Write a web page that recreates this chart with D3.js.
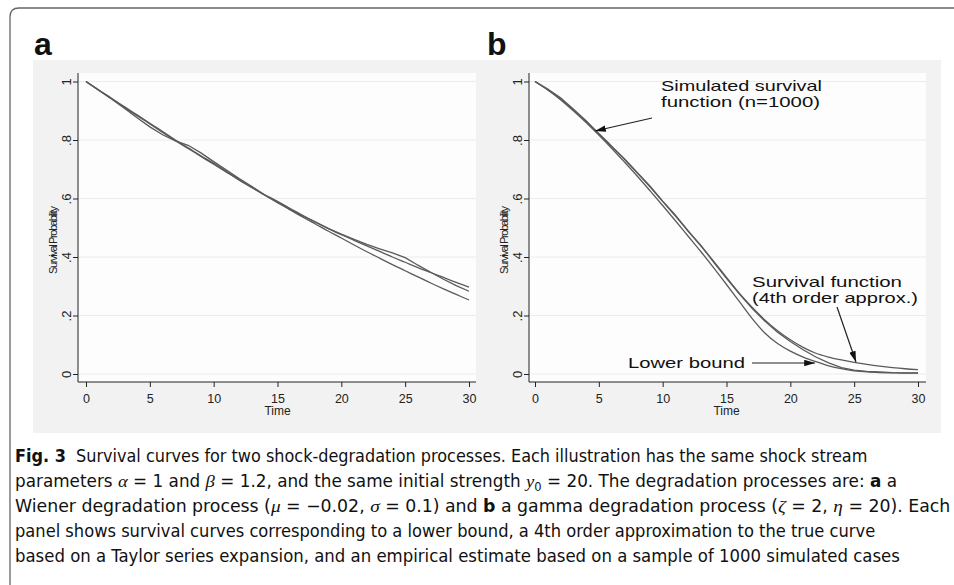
<!DOCTYPE html>
<html>
<head>
<meta charset="utf-8">
<script src="https://cdn.jsdelivr.net/npm/d3@7"></script>
<style>
  body { margin: 0; background: #fff; }
  svg { display: block; }
</style>
</head>
<body>
<div id="chart"></div>
<script>
// time grid shared by every curve
var time = [0, 1, 2, 3, 4, 5, 6, 7, 8, 9, 10, 11, 12, 13, 14, 15, 16, 17, 18, 19, 20,
            21, 22, 23, 24, 25, 26, 27, 28, 29, 30];

// panel a : Wiener degradation
var lowerA = [1.000, 0.970, 0.941, 0.912, 0.883, 0.855, 0.826, 0.798, 0.771, 0.744, 0.717,
              0.690, 0.663, 0.637, 0.611, 0.586, 0.561, 0.536, 0.512, 0.488, 0.465,
              0.441, 0.418, 0.396, 0.374, 0.353, 0.332, 0.311, 0.291, 0.272, 0.253];
var approxA = [1.000, 0.971, 0.943, 0.914, 0.886, 0.857, 0.829, 0.800, 0.773, 0.746, 0.720,
               0.692, 0.664, 0.638, 0.613, 0.590, 0.566, 0.542, 0.519, 0.497, 0.476,
               0.457, 0.438, 0.419, 0.400, 0.382, 0.364, 0.347, 0.330, 0.313, 0.297];
var empiricalA = [1.000, 0.970, 0.940, 0.909, 0.876, 0.845, 0.818, 0.797, 0.782, 0.756, 0.726,
                  0.697, 0.668, 0.641, 0.612, 0.587, 0.562, 0.540, 0.518, 0.497, 0.478,
                  0.460, 0.443, 0.428, 0.414, 0.398, 0.372, 0.348, 0.324, 0.302, 0.283];

// panel b : gamma degradation
var lowerB = [1.000, 0.971, 0.938, 0.900, 0.860, 0.817, 0.772, 0.725, 0.677, 0.627, 0.576,
              0.524, 0.471, 0.418, 0.363, 0.306, 0.248, 0.190, 0.140, 0.104, 0.078,
              0.058, 0.042, 0.028, 0.018, 0.011, 0.007, 0.005, 0.004, 0.003, 0.003];
var approxB = [1.000, 0.972, 0.940, 0.903, 0.864, 0.822, 0.779, 0.734, 0.688, 0.640, 0.590,
               0.540, 0.489, 0.437, 0.385, 0.330, 0.276, 0.228, 0.185, 0.148, 0.117,
               0.091, 0.071, 0.058, 0.048, 0.040, 0.033, 0.027, 0.022, 0.018, 0.015];
var empiricalB = [1.000, 0.974, 0.944, 0.906, 0.866, 0.820, 0.778, 0.736, 0.689, 0.643, 0.591,
                  0.543, 0.488, 0.440, 0.382, 0.327, 0.274, 0.225, 0.181, 0.143, 0.111,
                  0.083, 0.058, 0.038, 0.022, 0.013, 0.009, 0.007, 0.005, 0.004, 0.004];

// axes
var xTicks = [0, 5, 10, 15, 20, 25, 30];
var yTicks = [0, 0.2, 0.4, 0.6, 0.8, 1];
var yTickLabels = ["0", ".2", ".4", ".6", ".8", "1"];

// caption, one array per line: [text, style]
var captionLines = [
    [["Fig. 3", "b"], ["  Survival curves for two shock-degradation processes. Each illustration has the same shock stream", "n"]],
    [["parameters ", "n"], ["\u03b1", "i"], [" = 1 and ", "n"], ["\u03b2", "i"], [" = 1.2, and the same initial strength ", "n"],
     ["y", "i"], ["0", "sub"], [" = 20. The degradation processes are: ", "n"], ["a", "b"], [" a", "n"]],
    [["Wiener degradation process (", "n"], ["\u03bc", "i"], [" = \u22120.02, ", "n"], ["\u03c3", "i"], [" = 0.1) and ", "n"],
     ["b", "b"], [" a gamma degradation process (", "n"], ["\u03b6", "i"], [" = 2, ", "n"], ["\u03b7", "i"], [" = 20). Each", "n"]],
    [["panel shows survival curves corresponding to a lower bound, a 4th order approximation to the true curve", "n"]],
    [["based on a Taylor series expansion, and an empirical estimate based on a sample of 1000 simulated cases", "n"]]
];
var captionWidths = [853, 882, 936, 861, 885];

function draw() {
    var w = 954;
    var h = 585;

    var svg = d3.select("#chart")
        .append("svg")
        .attr("width", w)
        .attr("height", h);

    // arrow head
    svg.append("defs").append("marker")
        .attr("id", "arrow")
        .attr("viewBox", "0 0 10 6")
        .attr("refX", 10)
        .attr("refY", 3)
        .attr("markerWidth", 11)
        .attr("markerHeight", 6.5)
        .attr("markerUnits", "userSpaceOnUse")
        .attr("orient", "auto")
        .append("path")
        .attr("d", "M0,0L10,3L0,6Z")
        .attr("fill", "#111");

    // frame of the figure
    svg.append("path")
        .attr("d", "M10,600L10,17Q10,8 19,8L970,8")
        .attr("fill", "none")
        .attr("stroke", "#666")
        .attr("stroke-width", 1.3);

    // gray graph region
    svg.append("rect")
        .attr("x", 33).attr("y", 60)
        .attr("width", 908).attr("height", 373)
        .attr("fill", "#f2f2f2");

    var panels = [
        { label: "a", labelX: 34, left: 78, right: 476, x0: 86, x1: 469,
          series: [lowerA, approxA, empiricalA] },
        { label: "b", labelX: 487, left: 529, right: 926, x0: 535, x1: 918,
          series: [lowerB, approxB, empiricalB] }
    ];

    var top = 73, bottom = 382;
    var y = d3.scaleLinear().domain([0, 1]).range([374, 81.5]);

    panels.forEach(function(p) {
        var x = d3.scaleLinear().domain([0, 30]).range([p.x0, p.x1]);

        svg.append("text")
            .attr("x", p.labelX)
            .attr("y", 55)
            .attr("font-family", "Liberation Sans, Arial, sans-serif")
            .attr("font-weight", "bold")
            .attr("font-size", "32px")
            .attr("fill", "#111")
            .text(p.label);

        // plot area
        svg.append("rect")
            .attr("x", p.left).attr("y", top)
            .attr("width", p.right - p.left).attr("height", bottom - top)
            .attr("fill", "#fdfdfd");

        // gridlines
        svg.append("g")
            .selectAll("line")
            .data(yTicks)
            .enter()
            .append("line")
            .attr("x1", p.left).attr("x2", p.right)
            .attr("y1", function(d) { return y(d); })
            .attr("y2", function(d) { return y(d); })
            .attr("stroke", "#ececec")
            .attr("stroke-width", 1);

        // curves
        var smooth = d3.line()
            .x(function(d, i) { return x(time[i]); })
            .y(function(d) { return y(d); })
            .curve(d3.curveMonotoneX);
        var rough = d3.line()
            .x(function(d, i) { return x(time[i]); })
            .y(function(d) { return y(d); });

        p.series.forEach(function(s, k) {
            svg.append("path")
                .datum(s)
                .attr("d", k < 2 ? smooth : rough)
                .attr("fill", "none")
                .attr("stroke", "#5a5a5a")
                .attr("stroke-width", 1.3);
        });

        // y axis
        var yAxis = svg.append("g")
            .attr("transform", "translate(" + p.left + ",0)")
            .call(d3.axisLeft(y).tickValues(yTicks).tickSize(5)
                .tickFormat(function(d, i) { return yTickLabels[i]; }));
        yAxis.select(".domain").remove();
        yAxis.selectAll(".tick line").attr("stroke", "#222");
        yAxis.selectAll(".tick text")
            .attr("transform", "rotate(-90)")
            .attr("x", 0)
            .attr("y", -7.5)
            .attr("dy", 0)
            .attr("text-anchor", "middle")
            .attr("font-family", "Liberation Sans, Arial, sans-serif")
            .attr("font-size", "13px")
            .attr("fill", "#222");
        svg.append("line")
            .attr("x1", p.left).attr("x2", p.left)
            .attr("y1", top).attr("y2", bottom)
            .attr("stroke", "#222");

        // x axis
        var xAxis = svg.append("g")
            .attr("transform", "translate(0," + bottom + ")")
            .call(d3.axisBottom(x).tickValues(xTicks).tickSize(5).tickPadding(7));
        xAxis.select(".domain").remove();
        xAxis.selectAll(".tick line").attr("stroke", "#222");
        xAxis.selectAll(".tick text")
            .attr("font-family", "Liberation Sans, Arial, sans-serif")
            .attr("font-size", "12.5px")
            .attr("fill", "#222");
        svg.append("line")
            .attr("x1", p.left).attr("x2", p.right)
            .attr("y1", bottom).attr("y2", bottom)
            .attr("stroke", "#222");

        // axis titles
        svg.append("text")
            .attr("x", (p.x0 + p.x1) / 2)
            .attr("y", 415)
            .attr("text-anchor", "middle")
            .attr("font-family", "Liberation Sans, Arial, sans-serif")
            .attr("font-size", "12px")
            .attr("fill", "#222")
            .text("Time");

        svg.append("text")
            .attr("transform", "translate(" + (p.left - 21) + ",240) rotate(-90)")
            .attr("text-anchor", "middle")
            .attr("font-family", "Liberation Sans, Arial, sans-serif")
            .attr("font-size", "11px")
            .attr("textLength", 68)
            .attr("lengthAdjust", "spacing")
            .attr("fill", "#222")
            .text("Survival Probability");
    });

    // annotations in panel b
    var notes = [
        { text: "Simulated survival", x: 661, y: 91, len: 161 },
        { text: "function (n=1000)", x: 661, y: 107, len: 159 },
        { text: "Survival function", x: 752, y: 287, len: 150 },
        { text: "(4th order approx.)", x: 752, y: 303, len: 166 },
        { text: "Lower bound", x: 628, y: 368, len: 117 }
    ];
    svg.selectAll(".note")
        .data(notes)
        .enter()
        .append("text")
        .attr("class", "note")
        .attr("x", function(d) { return d.x; })
        .attr("y", function(d) { return d.y; })
        .attr("textLength", function(d) { return d.len; })
        .attr("lengthAdjust", "spacingAndGlyphs")
        .attr("font-family", "Liberation Sans, Arial, sans-serif")
        .attr("font-size", "14.5px")
        .attr("fill", "#111")
        .text(function(d) { return d.text; });

    var arrows = [
        [652, 118, 595, 131],
        [837, 307, 856, 362],
        [752, 363, 815, 363]
    ];
    svg.selectAll(".arrow")
        .data(arrows)
        .enter()
        .append("line")
        .attr("class", "arrow")
        .attr("x1", function(d) { return d[0]; })
        .attr("y1", function(d) { return d[1]; })
        .attr("x2", function(d) { return d[2]; })
        .attr("y2", function(d) { return d[3]; })
        .attr("stroke", "#222")
        .attr("stroke-width", 1.2)
        .attr("marker-end", "url(#arrow)");

    // caption
    captionLines.forEach(function(line, i) {
        var t = svg.append("text")
            .attr("x", 0)
            .attr("y", 0)
            .attr("font-family", "Liberation Sans Narrow, DejaVu Sans Condensed, Arial Narrow, sans-serif")
            .attr("font-size", "17.5px")
            .attr("fill", "#111")
            .attr("xml:space", "preserve");
        var lowered = false;
        line.forEach(function(seg) {
            var ts = t.append("tspan").text(seg[0]);
            if (seg[1] == "b") ts.attr("font-weight", "bold");
            if (seg[1] == "i") ts.attr("font-family", "Liberation Serif, DejaVu Serif, serif").attr("font-style", "italic");
            if (seg[1] == "sub") {
                ts.attr("font-size", "12px").attr("dy", 4);
                lowered = true;
            } else if (lowered) {
                ts.attr("dy", -4);
                lowered = false;
            }
        });
        var len = t.node().getComputedTextLength();
        t.attr("transform", "translate(15," + (462 + i * 25) + ") scale(" + (captionWidths[i] / len) + ",1)");
    });
}

window.onload = draw;
</script>
</body>
</html>
